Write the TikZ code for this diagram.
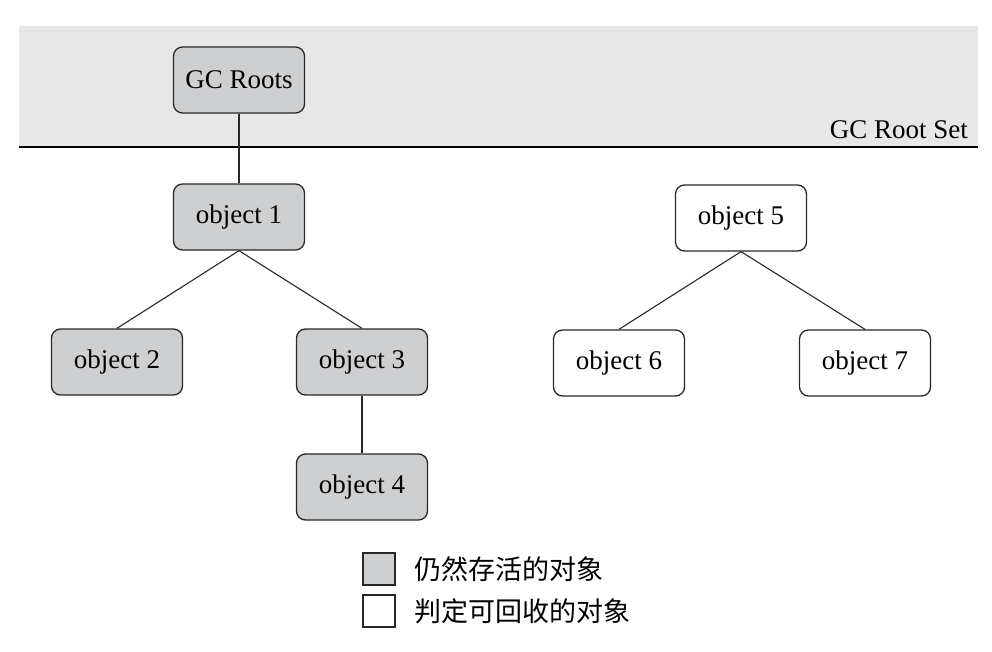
\documentclass[tikz,border=0pt]{standalone}
\usepackage{fontspec}
\setmainfont{Liberation Serif}
\newfontfamily\cjk{Noto Sans CJK SC}
\definecolor{bandgray}{RGB}{231,231,231}
\definecolor{livegray}{RGB}{206,207,209}
\definecolor{edgegray}{RGB}{40,40,40}
\begin{document}
\begin{tikzpicture}[x=1pt,y=-1pt,
  objbox/.style={draw=edgegray, line width=1.3pt, rounded corners=9pt,
    minimum width=131pt, minimum height=66pt, inner sep=0pt,
    font=\fontsize{27}{30}\selectfont},
  live/.style={objbox, fill=livegray},
  dead/.style={objbox, fill=white},
  link/.style={draw=edgegray, line width=1.1pt},
  legbox/.style={draw=edgegray, line width=1.1pt, minimum width=32pt, minimum height=32pt, inner sep=0pt},
  legtext/.style={anchor=west, inner sep=0pt, font=\cjk\fontsize{27}{30}\selectfont}
]
\useasboundingbox (0,0) rectangle (992,652);
\fill[bandgray] (19,26) rectangle (978,147);
\draw[line width=1.3pt] (19,147) -- (978,147);
\node[anchor=base east, inner sep=0pt, font=\fontsize{27}{30}\selectfont] (rootset) at (968,139) {GC Root Set};

\node[live] (gc) at (239,80) {GC Roots};
\node[live] (o1) at (239,217) {object 1};
\node[live] (o2) at (117,362) {object 2};
\node[live] (o3) at (362,362) {object 3};
\node[live] (o4) at (362,487) {object 4};
\node[dead] (o5) at (741,218) {object 5};
\node[dead] (o6) at (619,363) {object 6};
\node[dead] (o7) at (865,363) {object 7};

\draw[link] (gc) -- (o1);
\draw[link] (o1.south) -- (o2.north);
\draw[link] (o1.south) -- (o3.north);
\draw[link] (o3) -- (o4);
\draw[link] (o5.south) -- (o6.north);
\draw[link] (o5.south) -- (o7.north);

\node[legbox, fill=livegray] (l1) at (379,569) {};
\node[legbox, fill=white] (l2) at (379,611) {};
\node[legtext] (t1) at (414,569) {仍然存活的对象};
\node[legtext] (t2) at (414,611) {判定可回收的对象};
\end{tikzpicture}
\end{document}
